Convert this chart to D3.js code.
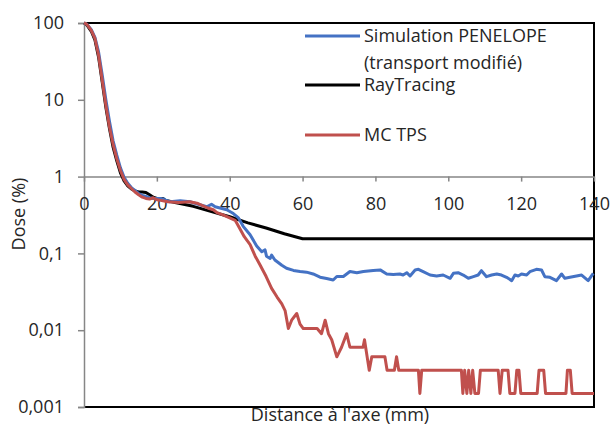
<!DOCTYPE html>
<html><head><meta charset="utf-8">
<script src="https://cdn.jsdelivr.net/npm/d3@7"></script>
<style>body{margin:0;background:#fff}svg{display:block}text{font-family:"Open Sans",sans-serif;fill:#262626}</style>
</head><body>
<svg id="c" width="610" height="427"></svg>
<script>
const xTicks=[0,20,40,60,80,100,120,140];
const yTicks=[0.001,0.01,0.1,1,10,100];
const yTickLabels=["0,001","0,01","0,1","1","10","100"];
const seriesNames=["Simulation PENELOPE","(transport modifié)","RayTracing","MC TPS"];
const xTitle="Distance à l'axe (mm)";
const yTitle="Dose (%)";

const blackX=[0,0.5,1,2,3,4,5,6,7,8,9,10,11,12,13,14,15,16,17,18,19,20,25,30,35,40,45,50,55,60,140];
const blackY=[100,97,91,78,60,36,17,8,4.2,2.4,1.6,1.12,0.88,0.76,0.69,0.65,0.63,0.63,0.62,0.58,0.54,0.52,0.46,0.41,0.35,0.30,0.25,0.214,0.18,0.155,0.155];

const blueX=[0,0.5,1,2,3,4,5,6,7,8,9,10,11,12,13,14,15,16,17,18,19,20,21,23.6,26.4,29.1,31.8,33.7,35,36,39.2,41,42.4,43.7,45.6,47.4,48.8,49.7,50.1,51.1,51.5,52.4,54.3,55.6,57.5,59.3,61.1,62.9,64.8,66.6,68.4,69.4,71.2,73,74.9,76.7,79.4,81.3,83.1,84.9,86.7,87.6,88.6,89.5,90.9,91.8,93.1,95,96.8,98.6,100.5,101.4,102.7,104.1,105.5,106.9,108.2,109.1,110.5,111.9,113.3,114.6,116,117.4,118.3,119.2,120.1,121.5,122.4,124.2,125.6,126.5,127.9,129.7,131.1,132,133.4,135.2,136.6,138.4,139.8];
const blueY=[100,98,94,82,65,42,21,10,5.2,2.9,1.9,1.3,0.98,0.82,0.72,0.66,0.6,0.57,0.55,0.53,0.52,0.52,0.52,0.47,0.485,0.47,0.43,0.405,0.435,0.405,0.37,0.33,0.29,0.225,0.175,0.125,0.105,0.111,0.092,0.086,0.095,0.082,0.07,0.064,0.06,0.058,0.057,0.054,0.049,0.047,0.045,0.05,0.05,0.058,0.056,0.058,0.06,0.061,0.054,0.053,0.054,0.0523,0.0561,0.0508,0.0608,0.062,0.0578,0.0523,0.0508,0.0523,0.0474,0.055,0.0561,0.0523,0.0474,0.0498,0.0523,0.0596,0.0498,0.0523,0.0539,0.0523,0.0488,0.0442,0.0523,0.0508,0.0539,0.0523,0.0578,0.062,0.0608,0.0498,0.0488,0.0442,0.0539,0.0474,0.0488,0.0508,0.0523,0.0442,0.055];

const redX=[0,0.5,1,2,3,4,5,6,7,8,9,10,11,12,13,14,15,16,17,18,19,20,21,23,26,29,31,33,34,35.5,36.5,38,40,41.5,42.8,44,45.6,47,48.3,50,51.5,53,54.3,55.2,56.1,57,58.4,59.3,60.2,64,65.2,66.2,67.1,68,69.4,70.7,72.1,73,76.6,77,78.3,79,82.6,83.2,85.2,85.8,86.4,91.8,92.2,92.7,103.6,104,104.5,105.1,105.6,106.2,106.7,107.3,108.3,108.8,113.7,114.2,114.8,116.4,116.9,118.3,118.8,119.4,119.9,124.4,124.9,126.2,126.7,132.3,132.7,133.5,134,140];
const redY=[100,98,93,80,63,38,18,8.5,4.4,2.6,1.7,1.2,0.92,0.78,0.7,0.63,0.58,0.54,0.52,0.51,0.53,0.5,0.49,0.47,0.46,0.47,0.45,0.41,0.39,0.37,0.34,0.32,0.29,0.27,0.21,0.165,0.13,0.092,0.071,0.05,0.035,0.027,0.022,0.018,0.0105,0.0135,0.0165,0.012,0.0105,0.0105,0.009,0.0135,0.009,0.0075,0.0045,0.006,0.009,0.006,0.006,0.0075,0.003,0.0045,0.0045,0.003,0.003,0.0045,0.003,0.003,0.0015,0.003,0.003,0.0015,0.003,0.0015,0.003,0.0015,0.003,0.0015,0.0015,0.003,0.003,0.0015,0.003,0.003,0.0015,0.0015,0.003,0.003,0.0015,0.0015,0.003,0.003,0.0015,0.0015,0.003,0.003,0.0015,0.0015];

const svg=d3.select("#c");
const L=84,R=594,T=23,B=407;
const x=d3.scaleLinear().domain([0,140]).range([L,R]);
const y=d3.scaleLog().domain([0.001,100]).range([B,T]);

// plot border (top, right, bottom)
svg.append("path").attr("d",`M${L},${T}H${R}V${B}H${L}`).attr("fill","none").attr("stroke","#000").attr("stroke-width",2);

// y axis
const ya=svg.append("g").attr("transform",`translate(${L},0)`)
  .call(d3.axisLeft(y).tickValues(yTicks).tickFormat((d,i)=>yTickLabels[i]).tickSize(6).tickPadding(14));
ya.select(".domain").attr("stroke","#868686").attr("stroke-width",1.5);
ya.selectAll(".tick line").attr("stroke","#868686").attr("stroke-width",1.5);
ya.selectAll(".tick text").style("font-size","18px").style("font-family","Open Sans").attr("fill","#262626");

// x axis at y=1
const xa=svg.append("g").attr("transform",`translate(0,${y(1)})`)
  .call(d3.axisBottom(x).tickValues(xTicks).tickSize(5).tickPadding(16).tickSizeOuter(0));
xa.select(".domain").attr("stroke","#868686").attr("stroke-width",1.5);
xa.selectAll(".tick line").attr("stroke","#868686").attr("stroke-width",1.5);
xa.selectAll(".tick text").style("font-size","18px").style("font-family","Open Sans").attr("fill","#262626");

const line=d3.line().x(d=>x(d[0])).y(d=>y(d[1]));
const series=[
  {xs:blackX,ys:blackY,c:"#000000"},
  {xs:blueX,ys:blueY,c:"#4472C4"},
  {xs:redX,ys:redY,c:"#C0504D"}
];
series.forEach(s=>{
  svg.append("path").datum(s.xs.map((v,i)=>[v,s.ys[i]]))
    .attr("d",line).attr("fill","none").attr("stroke",s.c).attr("stroke-width",3).attr("stroke-linejoin","round");
});

// legend
const leg=[{c:"#4472C4",y:36,t:[seriesNames[0],seriesNames[1]]},{c:"#000000",y:85,t:[seriesNames[2]]},{c:"#C0504D",y:135,t:[seriesNames[3]]}];
leg.forEach(l=>{
  svg.append("line").attr("x1",305).attr("x2",360).attr("y1",l.y).attr("y2",l.y).attr("stroke",l.c).attr("stroke-width",3);
  l.t.forEach((t,i)=>svg.append("text").attr("x",364).attr("y",l.y+i*27).attr("dy","0.35em").style("font-size","18px").text(t));
});

// titles
svg.append("text").attr("x",340).attr("y",415).attr("dy","0.35em").attr("text-anchor","middle").style("font-size","18px").text(xTitle);
svg.append("text").attr("transform",`translate(19,214) rotate(-90)`).attr("dy","0.35em").attr("text-anchor","middle").style("font-size","18px").text(yTitle);
</script>
</body></html>
